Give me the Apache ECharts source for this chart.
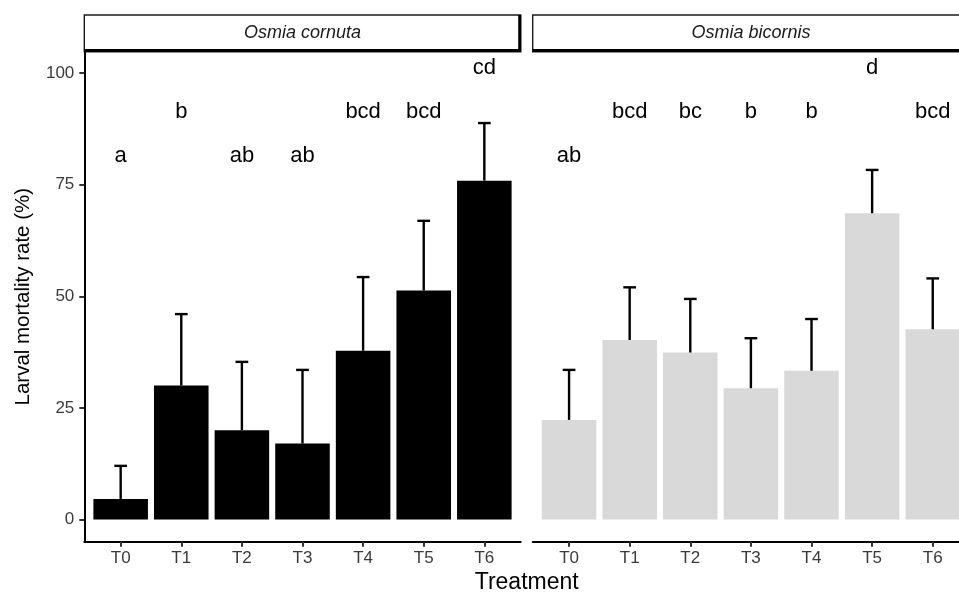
<!DOCTYPE html>
<html>
<head>
<meta charset="utf-8">
<script src="https://cdn.jsdelivr.net/npm/echarts@6/dist/echarts.min.js"></script>
<style>
html,body{margin:0;padding:0;background:#fff;overflow:hidden;width:959px;height:594px;}
#chart{width:990px;height:594px;}
</style>
</head>
<body>
<div id="chart"></div>
<script>
// ---- data ----
const categories = ['T0','T1','T2','T3','T4','T5','T6'];
const panels = ['Osmia cornuta','Osmia bicornis'];
const cornutaMean   = [4.6, 30.0, 20.0, 17.0, 37.8, 51.3, 75.9];
const cornutaUpper  = [12.0, 46.0, 35.3, 33.5, 54.3, 66.9, 88.8];
const cornutaLetters = ['a','b','ab','ab','bcd','bcd','cd'];
const cornutaLetterY = [81.4, 91.2, 81.4, 81.4, 91.2, 91.2, 101.1];
const bicornisMean  = [22.3, 40.2, 37.4, 29.4, 33.3, 68.6, 42.6];
const bicornisUpper = [33.5, 52.0, 49.4, 40.6, 44.9, 78.3, 54.0];
const bicornisLetters = ['ab','bcd','bc','b','b','d','bcd'];
const bicornisLetterY = [81.4, 91.2, 91.2, 91.2, 91.2, 101.1, 91.2];
const yTicks = [0, 25, 50, 75, 100];
const xTickIdx = [0,1,2,3,4,5,6];

// ---- layout ----
const FONT = '"Liberation Sans", Arial, sans-serif';
const panelTop = 51.7, panelH = 490, panelW = 436.4;
const panelLeft = [84.3, 532.7];
const stripTop = 15, stripH = 36.7;
const barColors = ['#000000', '#d9d9d9'];

const means = [cornutaMean, bicornisMean];
const uppers = [cornutaUpper, bicornisUpper];
const letters = [cornutaLetters, bicornisLetters];
const letterY = [cornutaLetterY, bicornisLetterY];

function barRenderer(color){
  return function(params, api){
    const i = api.value(0), m = api.value(1), u = api.value(2);
    const tl = api.coord([i - 0.45, m]);
    const br = api.coord([i + 0.45, 0]);
    const top = api.coord([i, m]);
    const et = api.coord([i, u]);
    const cl = api.coord([i - 0.105, u]);
    const cr = api.coord([i + 0.105, u]);
    return {type:'group', children:[
      {type:'rect', shape:{x:tl[0], y:tl[1], width:br[0]-tl[0], height:br[1]-tl[1]}, style:{fill:color}},
      {type:'line', shape:{x1:top[0], y1:top[1], x2:et[0], y2:et[1]}, style:{stroke:'#000', lineWidth:2.4}},
      {type:'line', shape:{x1:cl[0], y1:cl[1], x2:cr[0], y2:cr[1]}, style:{stroke:'#000', lineWidth:2.4}}
    ]};
  };
}
function textRenderer(labels){
  return function(params, api){
    const p = api.coord([api.value(0), api.value(1)]);
    return {type:'text', x:p[0], y:p[1], style:{text:labels[params.dataIndex], font:'22px ' + FONT, fill:'#000', align:'center', verticalAlign:'middle'}};
  };
}

const grids = [], xAxes = [], yAxes = [], series = [], graphics = [];
for (let p = 0; p < 2; p++){
  grids.push({left:panelLeft[p], top:panelTop, width:panelW, height:panelH, containLabel:false});
  xAxes.push({
    type:'value', gridIndex:p, min:-0.6, max:6.6,
    splitLine:{show:false},
    axisLine:{show:true, onZero:false, lineStyle:{color:'#000', width:2}},
    axisTick:{show:true, customValues:xTickIdx, length:5, lineStyle:{color:'#333', width:2}},
    axisLabel:{show:true, customValues:xTickIdx, formatter:v => categories[Math.round(v)], color:'#3a3a3a', fontSize:17, fontFamily:FONT, margin:8}
  });
  yAxes.push({
    type:'value', gridIndex:p, min:-4.99, max:104.79,
    splitLine:{show:false},
    axisLine:{show:p===0, onZero:false, lineStyle:{color:'#000', width:2}},
    axisTick:{show:p===0, customValues:yTicks, length:5, lineStyle:{color:'#333', width:2}},
    axisLabel:{show:p===0, customValues:yTicks, color:'#3a3a3a', fontSize:17, fontFamily:FONT, margin:10}
  });
  series.push({
    type:'custom', xAxisIndex:p, yAxisIndex:p, clip:false,
    renderItem: barRenderer(barColors[p]),
    encode:{x:0, y:[1,2]},
    data: categories.map((c, i) => [i, means[p][i], uppers[p][i]])
  });
  series.push({
    type:'custom', xAxisIndex:p, yAxisIndex:p, clip:false,
    renderItem: textRenderer(letters[p]),
    encode:{x:0, y:1},
    data: categories.map((c, i) => [i, letterY[p][i]])
  });
  const L = panelLeft[p];
  graphics.push({type:'rect', shape:{x:L, y:stripTop, width:panelW, height:stripH}, style:{fill:'#fff', stroke:'#1a1a1a', lineWidth:1.4}, z:10});
  graphics.push({type:'line', shape:{x1:L+panelW-1, y1:stripTop, x2:L+panelW-1, y2:stripTop+stripH}, style:{stroke:'#000', lineWidth:3}, z:11});
  graphics.push({type:'line', shape:{x1:L, y1:stripTop+stripH-1.2, x2:L+panelW, y2:stripTop+stripH-1.2}, style:{stroke:'#000', lineWidth:3}, z:11});
  graphics.push({type:'text', x:L+panelW/2, y:stripTop+stripH/2, style:{text:panels[p], font:'italic 18px ' + FONT, fill:'#1a1a1a', align:'center', verticalAlign:'middle'}, z:12});
}
graphics.push({type:'text', x:(panelLeft[0] + panelLeft[1] + panelW)/2, y:583, style:{text:'Treatment', font:'23px ' + FONT, fill:'#000', align:'center', verticalAlign:'middle'}});
graphics.push({type:'text', x:23, y:panelTop + panelH/2, rotation:Math.PI/2, style:{text:'Larval mortality rate (%)', font:'20.5px ' + FONT, fill:'#000', align:'center', verticalAlign:'middle'}});

const chart = echarts.init(document.getElementById('chart'), null, {renderer:'canvas'});
chart.setOption({
  animation:false,
  backgroundColor:'#fff',
  grid:grids, xAxis:xAxes, yAxis:yAxes, series:series, graphic:graphics
});
</script>
</body>
</html>
